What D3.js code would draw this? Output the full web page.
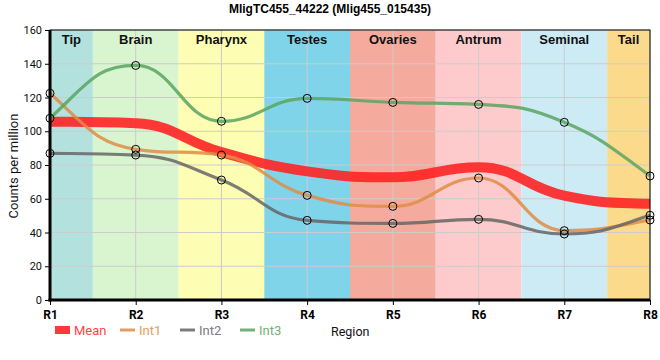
<!DOCTYPE html>
<html><head><meta charset="utf-8">
<script src="https://cdn.jsdelivr.net/npm/d3@7"></script>
<style>body{margin:0;background:#fff}svg{display:block}</style>
</head><body>
<svg id="c" width="660" height="360"></svg>
<script>
const categories = ["R1","R2","R3","R4","R5","R6","R7","R8"];
const regions = ["Tip","Brain","Pharynx","Testes","Ovaries","Antrum","Seminal","Tail"];
const regionColors = ["#b3e2de","#d8f5cf","#fdfdb3","#7fd4ea","#f4ab9d","#fdcbcb","#cdebf5","#fcda8b"];
const meanValues = [105.7, 104.8, 87.6, 76.2, 72.7, 78.7, 61.8, 57.0];
const int1Values = [122.5, 89.3, 85.9, 62.0, 55.5, 72.3, 41.1, 47.4];
const int2Values = [86.9, 85.9, 71.1, 47.2, 45.4, 47.8, 39.1, 50.2];
const int3Values = [107.7, 139.0, 105.9, 119.5, 117.1, 115.9, 105.3, 73.5];
const yTicks = [0,20,40,60,80,100,120,140,160];
const seriesNames = ["Mean","Int1","Int2","Int3"];
const seriesColors = ["#ff2424","#e08c45","#666666","#5aa462"];

// spline curve factory (long control handles, no false extremes, natural-like ends)
function SplineCurve(context){ this._context = context; }
SplineCurve.prototype = {
  areaStart(){}, areaEnd(){},
  lineStart(){ this._px=[]; this._py=[]; },
  point(x,y){ this._px.push(+x); this._py.push(+y); },
  lineEnd(){
    const X=this._px, Y=this._py, n=X.length, c=this._context, h=0.45;
    if(!n) return;
    c.moveTo(X[0],Y[0]);
    if(n<3){ for(let i=1;i<n;i++) c.lineTo(X[i],Y[i]); return; }
    const lc=[], rc=[];
    for(let i=1;i<n-1;i++){
      const lx = X[i]-h*(X[i]-X[i-1]), rx = X[i]+h*(X[i+1]-X[i]);
      let ly = Y[i]+h*(Y[i-1]-Y[i]), ry = Y[i]+h*(Y[i+1]-Y[i]);
      const corr = (ry-ly)*(rx-X[i])/(rx-lx) + Y[i] - ry;
      ly+=corr; ry+=corr;
      const a=Y[i-1], p=Y[i], b=Y[i+1];
      if(ly>a && ly>p){ ly=Math.max(a,p); ry=2*p-ly; }
      else if(ly<a && ly<p){ ly=Math.min(a,p); ry=2*p-ly; }
      if(ry>b && ry>p){ ry=Math.max(b,p); ly=2*p-ry; }
      else if(ry<b && ry<p){ ry=Math.min(b,p); ly=2*p-ry; }
      lc[i]=[lx,ly]; rc[i]=[rx,ry];
    }
    // end points: tangent from natural end condition
    {
      const dx=X[1]-X[0], ch=(Y[1]-Y[0])/dx;
      const m1=(rc[1][1]-lc[1][1])/(rc[1][0]-lc[1][0]);
      const m0=(3*ch-m1)/2;
      let cy=Y[0]+h*dx*m0;
      cy = Math.max(Math.min(cy,Math.max(Y[0],Y[1])),Math.min(Y[0],Y[1]));
      rc[0]=[X[0]+h*dx,cy];
    }
    {
      const k=n-1, dx=X[k]-X[k-1], ch=(Y[k]-Y[k-1])/dx;
      const m1=(rc[k-1][1]-lc[k-1][1])/(rc[k-1][0]-lc[k-1][0]);
      const m0=(3*ch-m1)/2;
      let cy=Y[k]-h*dx*m0;
      cy = Math.max(Math.min(cy,Math.max(Y[k],Y[k-1])),Math.min(Y[k],Y[k-1]));
      lc[k]=[X[k]-h*dx,cy];
    }
    for(let i=1;i<n;i++){
      c.bezierCurveTo(rc[i-1][0],rc[i-1][1],lc[i][0],lc[i][1],X[i],Y[i]);
    }
  }
};
const splineCurve = ctx => new SplineCurve(ctx);

const svg = d3.select("#c");
const L=50,R=650,T=30,B=300;
const x = d3.scalePoint().domain(categories).range([L,R]);
const y = d3.scaleLinear().domain([0,160]).range([B,T]);
const step = x.step();

// bands
const g = svg.append("g");
regions.forEach((r,i)=>{
  const cx = x(categories[i]);
  const x0 = Math.max(L, cx-step/2), x1 = Math.min(R, cx+step/2);
  g.append("rect").attr("x",x0).attr("y",T).attr("width",x1-x0).attr("height",B-T).attr("fill",regionColors[i]);
});
// grid
yTicks.forEach(t=>{
  g.append("line").attr("x1",L).attr("x2",R).attr("y1",y(t)).attr("y2",y(t)).attr("stroke","#cccccc").attr("stroke-width",1);
});
categories.forEach(c=>{
  g.append("line").attr("x1",x(c)).attr("x2",x(c)).attr("y1",T).attr("y2",B).attr("stroke","#cccccc").attr("stroke-width",1);
});
// band labels
regions.forEach((r,i)=>{
  const cx = x(categories[i]);
  const x0 = Math.max(L, cx-step/2), x1 = Math.min(R, cx+step/2);
  g.append("text").attr("x",(x0+x1)/2).attr("y",T+14).attr("text-anchor","middle")
   .attr("font-family","Liberation Sans, Arial, sans-serif").attr("font-weight","bold").attr("font-size",13).attr("fill","#111").text(r);
});

// lines
const line = d3.line().x((d,i)=>x(categories[i])).y(d=>y(d)).curve(splineCurve);
const allSeries = [meanValues,int1Values,int2Values,int3Values];
allSeries.forEach((vals,si)=>{
  svg.append("path").attr("d",line(vals)).attr("fill","none")
    .attr("stroke",seriesColors[si]).attr("stroke-width",si===0?10:3.2).attr("stroke-opacity",si===0?0.9:0.85);
});
[int1Values,int2Values,int3Values].forEach(vals=>{
  svg.append("g").selectAll("circle").data(vals).join("circle")
    .attr("cx",(d,i)=>x(categories[i])).attr("cy",d=>y(d)).attr("r",4)
    .attr("fill","none").attr("stroke","#000").attr("stroke-width",1);
});

// frame
svg.append("rect").attr("x",L).attr("y",T).attr("width",R-L).attr("height",B-T).attr("fill","none").attr("stroke","#000").attr("stroke-width",1);

// axes
const ya = svg.append("g").attr("transform",`translate(${L},0)`)
  .call(d3.axisLeft(y).tickValues(yTicks).tickSize(5).tickSizeOuter(0));
ya.select(".domain").attr("stroke-width",3).attr("d",`M0,${T}V${B+1.5}`);
ya.selectAll("text").attr("font-family","Roboto, sans-serif").attr("font-size",11).attr("fill","#111");
const xa = svg.append("g").attr("transform",`translate(0,${B})`)
  .call(d3.axisBottom(x).tickSize(5).tickSizeOuter(0));
xa.select(".domain").attr("stroke-width",3).attr("d",`M${L-1.5},0H${R}`);
xa.selectAll("text").attr("font-family","Roboto, sans-serif").attr("font-weight","bold").attr("font-size",12).attr("fill","#000").attr("dy","0.9em");

// title
svg.append("text").attr("x",330).attr("y",13).attr("text-anchor","middle")
  .attr("font-family","Liberation Sans, Arial, sans-serif").attr("font-weight","bold").attr("font-size",12).text("MligTC455_44222 (Mlig455_015435)");
// y label
svg.append("text").attr("transform","translate(18,166) rotate(-90)").attr("text-anchor","middle")
  .attr("font-family","Roboto, sans-serif").attr("font-size",13).attr("fill","#111").text("Counts per million");
// x label
svg.append("text").attr("x",331).attr("y",336).attr("font-family","Roboto, sans-serif").attr("font-size",12.5).attr("fill","#111").text("Region");

// legend
const lg = svg.append("g");
const legX = [55,120,180,240];
seriesNames.forEach((n,i)=>{
  if(i===0){
    lg.append("rect").attr("x",legX[i]).attr("y",326).attr("width",15).attr("height",8).attr("fill",seriesColors[i]).attr("opacity",0.9);
  } else {
    lg.append("line").attr("x1",legX[i]).attr("x2",legX[i]+15).attr("y1",330).attr("y2",330).attr("stroke",seriesColors[i]).attr("stroke-width",3).attr("opacity",0.85);
  }
  lg.append("text").attr("x",legX[i]+19).attr("y",335).attr("font-family","Roboto, sans-serif").attr("font-size",13)
    .attr("fill",seriesColors[i]).attr("opacity",0.85).text(n);
});
</script>
</body></html>
